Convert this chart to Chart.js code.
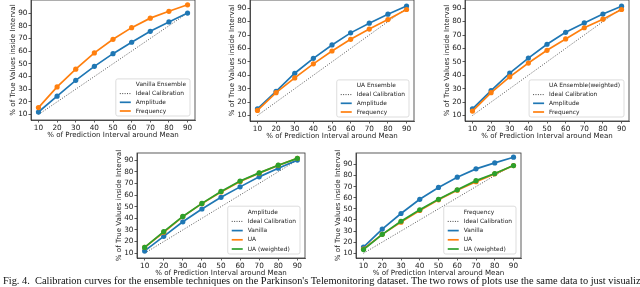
<!DOCTYPE html>
<html>
<head>
<meta charset="utf-8">
<script src="https://cdn.jsdelivr.net/npm/chart.js@4.4.0/dist/chart.umd.min.js"></script>
<style>
  html, body { margin: 0; padding: 0; background: #fff; }
  body { width: 640px; height: 287px; position: relative; overflow: hidden; }
  canvas { position: absolute; }
  .caption {
    position: absolute; left: 3px; top: 276px;
    font-family: "Liberation Serif", "Times New Roman", serif;
    font-size: 10.38px; line-height: 10px; white-space: nowrap; color: #111;
  }
</style>
</head>
<body>
<canvas id="p1"></canvas>
<canvas id="p2"></canvas>
<canvas id="p3"></canvas>
<canvas id="p4"></canvas>
<canvas id="p5"></canvas>
<div class="caption">Fig. 4.&nbsp;&nbsp;Calibration curves for the ensemble techniques on the Parkinson's Telemonitoring dataset. The two rows of plots use the same data to just visualize</div>
<script>
// datos
const intervals = [10, 20, 30, 40, 50, 60, 70, 80, 90];
const xTicks = [10, 20, 30, 40, 50, 60, 70, 80, 90];
const yTicks = [10, 20, 30, 40, 50, 60, 70, 80, 90];
const ideal = [10, 20, 30, 40, 50, 60, 70, 80, 90];

const vanillaAmp = [12, 24.5, 37, 48, 58, 67, 75.6, 83, 90];
const vanillaFreq = [15.5, 31.8, 45.8, 58.6, 69.3, 78.5, 86, 91.4, 96.5];
const uaAmp = [15, 28, 41.5, 52.6, 62.6, 71.6, 78.8, 85.5, 91.6];
const uaFreq = [13.8, 27, 38, 48.5, 58.1, 66.8, 74.4, 81.5, 89];
const uawAmp = [15, 28.6, 41.6, 52.8, 63.1, 72, 79, 85.6, 91.5];
const uawFreq = [13.3, 27, 38.8, 49.1, 58.6, 67.1, 75.4, 81.8, 89];

const BLUE = '#1f77b4', ORANGE = '#ff7f0e', GREEN = '#2ca02c';
const SPINE = '#333';
const FONT = 'DejaVu Sans';

Chart.defaults.font.family = FONT;

// espacio reservado alrededor del area de dibujo
const PAD_T = 6, PAD_R = 6, Y_W = 22, X_H = 19;

const boxLegend = {
  id: 'boxLegend',
  afterDraw(chart, args, opts) {
    const { ctx, chartArea: a } = chart;
    ctx.save();
    ctx.strokeStyle = SPINE;
    ctx.lineWidth = 0.8;
    ctx.strokeRect(a.left, a.top, a.right - a.left, a.bottom - a.top);

    const entries = opts.entries;
    const rowH = opts.rowH;
    ctx.font = '5.9px "' + FONT + '"';
    const maxW = Math.max(...entries.map(e => ctx.measureText(e.text).width));
    const right = a.right - 5, bottom = a.bottom - 4;
    const height = 6 + (entries.length - 1) * rowH + 5;
    const top = bottom - height;
    const textX = right - 4 - maxW;
    const left = textX - 5 - 11 - 4;

    ctx.beginPath();
    ctx.roundRect(left, top, right - left, height, 2);
    ctx.fillStyle = 'rgba(255,255,255,0.85)';
    ctx.fill();
    ctx.strokeStyle = '#d4d4d4';
    ctx.lineWidth = 0.8;
    ctx.stroke();

    entries.forEach((e, i) => {
      const y = top + 6 + i * rowH;
      if (e.color) {
        ctx.beginPath();
        ctx.setLineDash(e.dash || []);
        ctx.strokeStyle = e.color;
        ctx.lineWidth = e.width;
        ctx.moveTo(left + 4, y);
        ctx.lineTo(left + 15, y);
        ctx.stroke();
        ctx.setLineDash([]);
      }
      ctx.fillStyle = '#222';
      ctx.textBaseline = 'middle';
      ctx.fillText(e.text, textX, y);
    });
    ctx.restore();
  }
};

function pts(values) {
  return intervals.map((x, i) => ({ x: x, y: values[i] }));
}

function idealSet() {
  return {
    data: pts(ideal), borderColor: '#444', borderWidth: 0.9,
    borderDash: [1, 1.6], pointRadius: 0, order: 10
  };
}

function serie(values, color, order) {
  return {
    data: pts(values), borderColor: color, backgroundColor: color,
    borderWidth: 1.7, pointRadius: 2.6, pointBorderWidth: 0,
    pointBackgroundColor: color, order: order
  };
}

function axis(min, max, ticks, title) {
  return {
    type: 'linear', min: min, max: max,
    afterBuildTicks: s => { s.ticks = ticks.map(v => ({ value: v })); },
    ticks: { font: { size: 7.3 }, color: '#222', padding: 1, maxRotation: 0, autoSkip: false },
    grid: { drawOnChartArea: false, drawTicks: true, tickLength: 2.5, color: SPINE, lineWidth: 0.8 },
    border: { color: SPINE, width: 0.8 },
    title: { display: true, text: title, font: { size: 7.1 }, color: '#222', padding: 0 }
  };
}

function crearPanel(id, box, yMin, yMax, datasets, entries, rowH) {
  const canvas = document.getElementById(id);
  const w = box.r - box.l + Y_W + PAD_R;
  const h = box.b - box.t + PAD_T + X_H;
  canvas.width = w; canvas.height = h;
  canvas.style.width = w + 'px'; canvas.style.height = h + 'px';
  canvas.style.left = (box.l - Y_W) + 'px';
  canvas.style.top = (box.t - PAD_T) + 'px';

  const xAxis = axis(6, 94, xTicks, '% of Prediction Interval around Mean');
  xAxis.afterFit = s => { s.height = X_H; };
  const yAxis = axis(yMin, yMax, yTicks, '% of True Values inside Interval');
  yAxis.afterFit = s => { s.width = Y_W; };

  new Chart(canvas.getContext('2d'), {
    type: 'line',
    data: { datasets: datasets },
    options: {
      responsive: false, animation: false, events: [],
      layout: { padding: { top: PAD_T, right: PAD_R, left: 0, bottom: 0 } },
      plugins: { legend: { display: false }, tooltip: { enabled: false }, boxLegend: { entries: entries, rowH: rowH } },
      scales: { x: xAxis, y: yAxis }
    },
    plugins: [boxLegend]
  });
}

const dotted = { text: 'Ideal Calibration', color: '#444', dash: [1, 1.4], width: 1 };

crearPanel('p1', { l: 31, t: 0, r: 195, b: 120 }, 5.7, 100.3,
  [idealSet(), serie(vanillaAmp, BLUE, 2), serie(vanillaFreq, ORANGE, 1)],
  [{ text: 'Vanilla Ensemble' }, dotted,
   { text: 'Amplitude', color: BLUE, width: 1.7 }, { text: 'Frequency', color: ORANGE, width: 1.7 }], 8.7);

crearPanel('p2', { l: 250, t: 0, r: 414, b: 121 }, 5.9, 96.1,
  [idealSet(), serie(uaAmp, BLUE, 2), serie(uaFreq, ORANGE, 1)],
  [{ text: 'UA Ensemble' }, dotted,
   { text: 'Amplitude', color: BLUE, width: 1.7 }, { text: 'Frequency', color: ORANGE, width: 1.7 }], 8.7);

crearPanel('p3', { l: 465, t: 0, r: 629, b: 121 }, 5.9, 96.1,
  [idealSet(), serie(uawAmp, BLUE, 2), serie(uawFreq, ORANGE, 1)],
  [{ text: 'UA Ensemble(weighted)' }, dotted,
   { text: 'Amplitude', color: BLUE, width: 1.7 }, { text: 'Frequency', color: ORANGE, width: 1.7 }], 8.7);

crearPanel('p4', { l: 137, t: 153, r: 305, b: 258 }, 5.9, 96.1,
  [idealSet(), serie(vanillaAmp, BLUE, 2), serie(uaAmp, ORANGE, 1), serie(uawAmp, GREEN, 0)],
  [{ text: 'Amplitude' }, dotted, { text: 'Vanilla', color: BLUE, width: 1.7 },
   { text: 'UA', color: ORANGE, width: 1.7 }, { text: 'UA (weighted)', color: GREEN, width: 1.7 }], 9.2);

crearPanel('p5', { l: 356, t: 153, r: 521, b: 258 }, 5.7, 100.3,
  [idealSet(), serie(vanillaFreq, BLUE, 2), serie(uaFreq, ORANGE, 1), serie(uawFreq, GREEN, 0)],
  [{ text: 'Frequency' }, dotted, { text: 'Vanilla', color: BLUE, width: 1.7 },
   { text: 'UA', color: ORANGE, width: 1.7 }, { text: 'UA (weighted)', color: GREEN, width: 1.7 }], 9.2);
</script>
</body>
</html>
